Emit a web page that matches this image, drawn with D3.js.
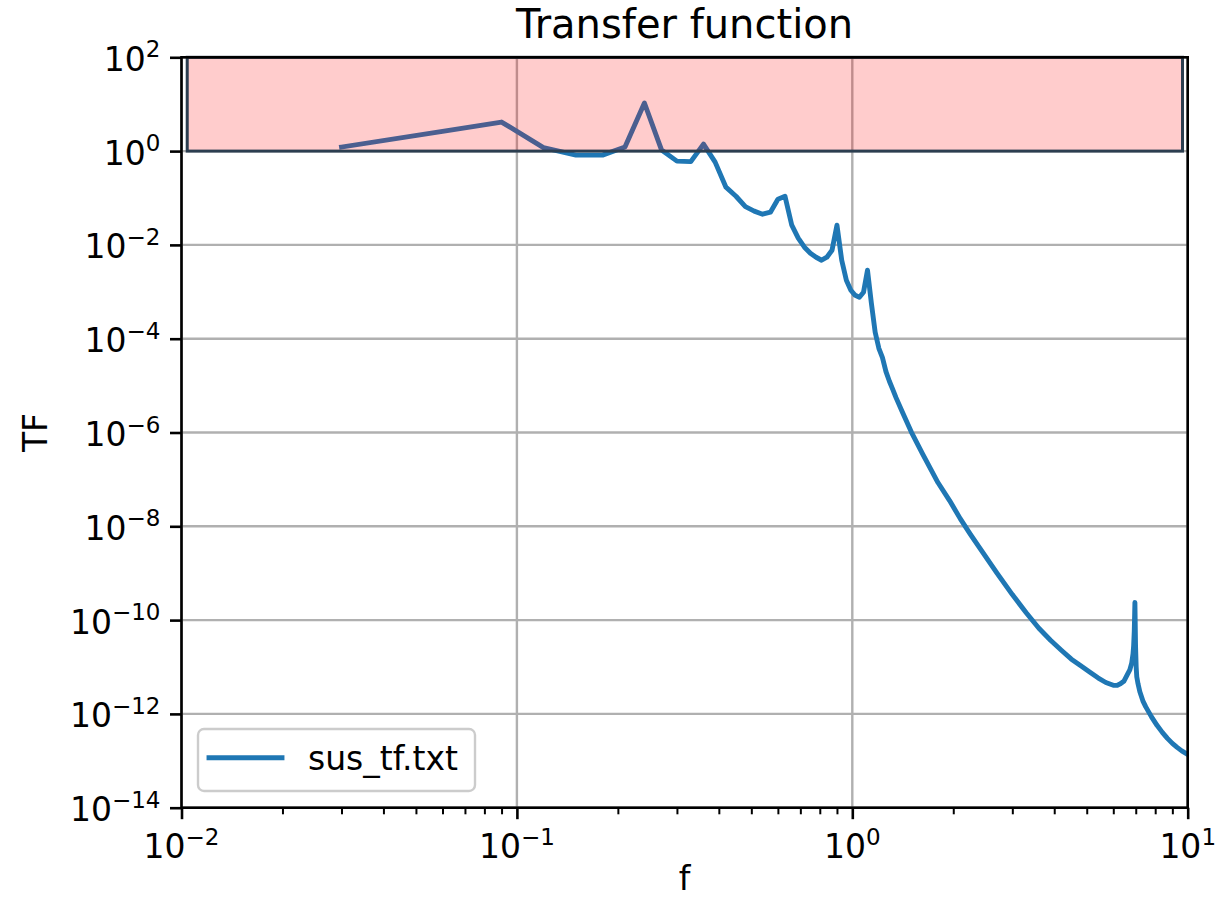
<!DOCTYPE html>
<html>
<head>
<meta charset="utf-8">
<script src="https://cdn.jsdelivr.net/npm/d3@7"></script>
<style>
  body { margin: 0; background: #fff; }
  svg { display: block; }
  text { font-family: "DejaVu Sans", sans-serif; fill: #000; }
</style>
</head>
<body>
<svg id="chart" width="1222" height="898"></svg>
<script>
// Suspension transfer function samples (frequency in Hz, magnitude)
const freq = [
  0.03, 0.06, 0.09, 0.12, 0.15, 0.18, 0.21, 0.24, 0.27, 0.30,
  0.33, 0.36, 0.39, 0.42, 0.45, 0.48, 0.51, 0.54, 0.57, 0.60,
  0.63, 0.66, 0.69, 0.72, 0.75, 0.78, 0.81, 0.84, 0.87, 0.90,
  0.93, 0.96, 0.99, 1.02, 1.05, 1.08, 1.11, 1.14, 1.17, 1.20,
  1.23, 1.26, 1.29, 1.32, 1.35, 1.41, 1.50, 1.62, 1.80, 1.95,
  2.10, 2.25, 2.40, 2.70, 3.00, 3.30, 3.60, 3.90, 4.20, 4.50,
  4.80, 5.10, 5.40, 5.70, 6.00, 6.15, 6.30, 6.45, 6.60, 6.72,
  6.81, 6.87, 6.90, 6.93, 6.96, 6.99, 7.02, 7.05, 7.11, 7.20,
  7.35, 7.50, 7.80, 8.10, 8.40, 8.70, 9.00, 9.30, 9.60, 9.99
];
const tf = [
  1.22, 2.64, 4.16, 1.19, 0.82, 0.82, 1.22, 10.6, 1.05, 0.611,
  0.596, 1.41, 0.582, 0.170, 0.109, 0.0653, 0.0524, 0.0451, 0.0498, 0.0944,
  0.109, 0.0263, 0.0139, 0.00893, 0.00664, 0.00546, 0.00471, 0.00546, 0.00771, 0.0263,
  0.00471, 0.00176, 0.00108, 8.41e-4, 7.64e-4, 9.77e-4, 2.88e-3, 5.68e-4, 1.37e-4, 6.25e-5,
  3.94e-5, 1.98e-5, 1.24e-5, 8.29e-6, 5.54e-6, 2.74e-6, 1.02e-6, 3.50e-7, 8.57e-8, 3.54e-8,
  1.44e-8, 6.75e-9, 3.41e-9, 1.00e-9, 3.50e-10, 1.44e-10, 6.71e-11, 3.72e-11, 2.28e-11, 1.47e-11,
  1.06e-11, 7.79e-12, 5.89e-12, 4.67e-12, 4.07e-12, 4.05e-12, 4.38e-12, 4.96e-12, 6.82e-12, 8.72e-12,
  1.23e-11, 1.91e-11, 2.84e-11, 5.93e-11, 2.38e-10, 2.84e-11, 1.01e-11, 6.18e-12, 4.38e-12, 2.96e-12,
  1.90e-12, 1.41e-12, 8.65e-13, 5.70e-13, 4.04e-13, 3.01e-13, 2.35e-13, 1.93e-13, 1.63e-13, 1.37e-13
];
const seriesName = "sus_tf.txt";

// Highlighted band (frequency span, magnitude span)
const bandF = [0.0104, 9.65];
const bandTF = [1, 100];

// Axis limits and tick exponents
const xDomain = [0.01, 10];
const yDomain = [1e-14, 1e2];
const xTickExps = [-2, -1, 0, 1];
const yTickExps = [2, 0, -2, -4, -6, -8, -10, -12, -14];

const titleText = "Transfer function";
const xLabelText = "f";
const yLabelText = "TF";

const L = 181.5, R = 1187.7, T = 57.3, B = 807.7;
const svg = d3.select("#chart");

const x = d3.scaleLog().domain(xDomain).range([L, R]);
const y = d3.scaleLog().domain(yDomain).range([B, T]);

const xMajor = xTickExps.map(e => Math.pow(10, e));
const yMajor = yTickExps.map(e => Math.pow(10, e));
const xMinor = [];
for (let e = -2; e < 1; e++) for (let m = 2; m <= 9; m++) xMinor.push(m * Math.pow(10, e));

// grid
const grid = svg.append("g").attr("stroke", "#b0b0b0").attr("stroke-width", 2.4);
grid.selectAll("line.gx").data(xMajor).join("line")
  .attr("x1", d => x(d)).attr("x2", d => x(d)).attr("y1", T).attr("y2", B);
grid.selectAll("line.gy").data(yMajor).join("line")
  .attr("y1", d => y(d)).attr("y2", d => y(d)).attr("x1", L).attr("x2", R);

// clip for data
svg.append("clipPath").attr("id", "plotclip").append("rect")
  .attr("x", L).attr("y", T).attr("width", R - L).attr("height", B - T);

// series
const pts = freq.map((f, i) => [f, tf[i]]);
const line = d3.line().x(d => x(d[0])).y(d => y(d[1]));
svg.append("path").datum(pts)
  .attr("clip-path", "url(#plotclip)")
  .attr("d", line)
  .attr("fill", "none")
  .attr("stroke", "#1f77b4")
  .attr("stroke-width", 4.9)
  .attr("stroke-linejoin", "round")
  .attr("stroke-linecap", "square");

// highlighted band on top of the curve
svg.append("rect")
  .attr("x", x(bandF[0])).attr("width", x(bandF[1]) - x(bandF[0]))
  .attr("y", y(bandTF[1])).attr("height", y(bandTF[0]) - y(bandTF[1]))
  .attr("fill", "rgba(255,0,0,0.2)")
  .attr("stroke", "#2c3e50")
  .attr("stroke-width", 3);

// ticks
const xAxisMaj = d3.axisBottom(x).tickValues(xMajor).tickSize(11.5).tickSizeOuter(0).tickFormat("");
const xAxisMin = d3.axisBottom(x).tickValues(xMinor).tickSize(6.6).tickSizeOuter(0).tickFormat("");
const yAxisMaj = d3.axisLeft(y).tickValues(yMajor).tickSize(11.5).tickSizeOuter(0).tickFormat("");
function styleTicks(g, w) {
  g.select(".domain").remove();
  g.selectAll(".tick line").attr("stroke", "#000").attr("stroke-width", w);
}
svg.append("g").attr("transform", `translate(0,${B})`).call(xAxisMaj).call(g => styleTicks(g, 2.6));
svg.append("g").attr("transform", `translate(0,${B})`).call(xAxisMin).call(g => styleTicks(g, 2));
svg.append("g").attr("transform", `translate(${L},0)`).call(yAxisMaj).call(g => styleTicks(g, 2.6));

// spines
svg.append("rect").attr("x", L).attr("y", T).attr("width", R - L).attr("height", B - T)
  .attr("fill", "none").attr("stroke", "#000").attr("stroke-width", 2.6);

// power-of-ten labels
function powLabel(sel, exp) {
  sel.append("tspan").text("10");
  sel.append("tspan").attr("dy", -13.4).attr("font-size", 23)
    .text(exp < 0 ? "\u2212" + Math.abs(exp) : String(exp));
}
svg.append("g").selectAll("text").data(xTickExps).join("text")
  .attr("x", d => x(Math.pow(10, d))).attr("y", 858)
  .attr("text-anchor", "middle").attr("font-size", 33)
  .each(function (d) { powLabel(d3.select(this), d); });
svg.append("g").selectAll("text").data(yTickExps).join("text")
  .attr("x", 160.5).attr("y", d => y(Math.pow(10, d)) + 13.4)
  .attr("text-anchor", "end").attr("font-size", 33)
  .each(function (d) { powLabel(d3.select(this), d); });

// title and axis labels
svg.append("text").attr("x", (L + R) / 2).attr("y", 38).attr("text-anchor", "middle")
  .attr("font-size", 40).text(titleText);
svg.append("text").attr("x", (L + R) / 2).attr("y", 890).attr("text-anchor", "middle")
  .attr("font-size", 33).text(xLabelText);
svg.append("text").attr("transform", `translate(47,${(T + B) / 2}) rotate(-90)`)
  .attr("text-anchor", "middle").attr("font-size", 33).text(yLabelText);

// legend
const lg = svg.append("g");
lg.append("rect").attr("x", 198).attr("y", 729).attr("width", 277).attr("height", 62)
  .attr("rx", 6).attr("fill", "rgba(255,255,255,0.8)").attr("stroke", "#cccccc").attr("stroke-width", 2.4);
lg.append("line").attr("x1", 209).attr("x2", 282).attr("y1", 757.7).attr("y2", 757.7)
  .attr("stroke", "#1f77b4").attr("stroke-width", 4.9).attr("stroke-linecap", "square");
lg.append("text").attr("x", 308).attr("y", 769.5).attr("font-size", 33).text(seriesName);
</script>
</body>
</html>
